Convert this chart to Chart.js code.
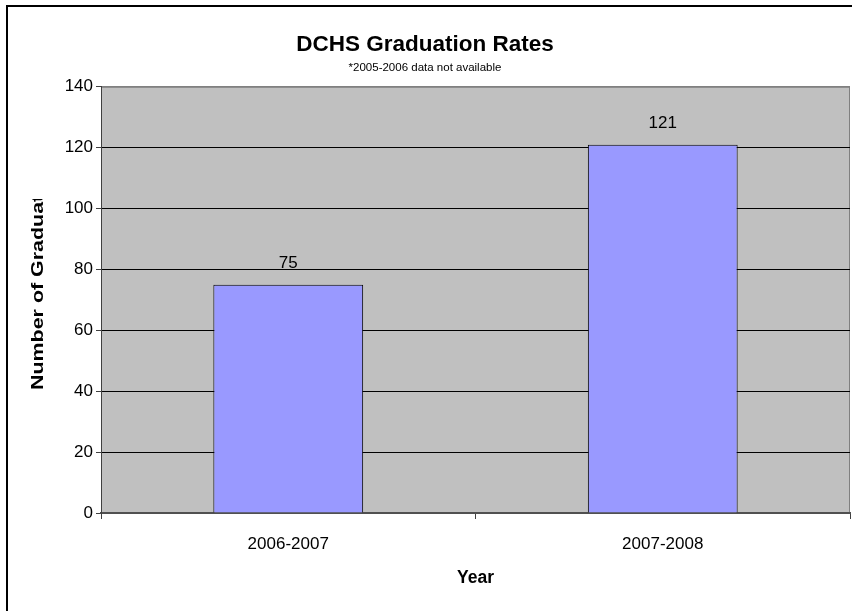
<!DOCTYPE html>
<html>
<head>
<meta charset="utf-8">
<title>DCHS Graduation Rates</title>
<script src="https://cdn.jsdelivr.net/npm/chart.js@4.4.1/dist/chart.umd.min.js"></script>
<style>
  html, body { margin: 0; padding: 0; background: #fff; }
  #wrap { width: 852px; height: 611px; position: relative; }
</style>
</head>
<body>
<div id="wrap"><canvas id="gradChart"></canvas></div>
<script>
// ---- data ----
const years = ['2006-2007', '2007-2008'];
const graduates = [75, 121];
const yTicks = [0, 20, 40, 60, 80, 100, 120, 140];

const FONT = "'Liberation Sans', Arial, sans-serif";

// frame round the whole chart + grey plot background
const framePlugin = {
    id: 'frame',
    beforeDraw(chart) {
        const { ctx, chartArea: a } = chart;
        ctx.save();
        ctx.fillStyle = '#fff';
        ctx.fillRect(0, 0, chart.width, chart.height);
        ctx.strokeStyle = '#000';
        ctx.lineWidth = 2;
        ctx.beginPath();
        ctx.moveTo(7, chart.height);
        ctx.lineTo(7, 6);
        ctx.lineTo(chart.width, 6);
        ctx.stroke();
        ctx.fillStyle = '#c0c0c0';
        ctx.fillRect(a.left, a.top, a.right - a.left, a.bottom - a.top);
        ctx.strokeStyle = '#808080';
        ctx.lineWidth = 1;
        ctx.strokeRect(a.left + 0.5, a.top + 0.5, a.right - a.left - 1, a.bottom - a.top);
        ctx.restore();
    }
};

// y axis title, cut off at the top like the original sheet
const yTitlePlugin = {
    id: 'yTitle',
    afterDraw(chart) {
        const { ctx } = chart;
        ctx.save();
        ctx.beginPath();
        ctx.rect(0, 199, 80, 400);
        ctx.clip();
        ctx.translate(38, 390);
        ctx.rotate(-Math.PI / 2);
        ctx.scale(1.26, 1);
        ctx.font = 'bold 17px ' + FONT;
        ctx.fillStyle = '#000';
        ctx.textAlign = 'left';
        ctx.textBaseline = 'middle';
        ctx.fillText('Number of Graduates', 0, 0);
        ctx.restore();
    }
};

// value above each bar
const valueLabels = {
    id: 'valueLabels',
    afterDatasetsDraw(chart) {
        const { ctx } = chart;
        ctx.save();
        ctx.font = '17px ' + FONT;
        ctx.fillStyle = '#000';
        ctx.textAlign = 'center';
        ctx.textBaseline = 'middle';
        chart.getDatasetMeta(0).data.forEach((bar, i) => {
            ctx.fillText(graduates[i], bar.x, bar.y - 21);
        });
        ctx.restore();
    }
};

new Chart(document.getElementById('gradChart'), {
    type: 'bar',
    data: {
        labels: years,
        datasets: [{
            data: graduates,
            backgroundColor: '#9999ff',
            borderColor: '#000',
            borderWidth: 1,
            borderSkipped: 'bottom',
            categoryPercentage: 1,
            barPercentage: 0.4
        }]
    },
    options: {
        responsive: true,
        maintainAspectRatio: false,
        animation: false,
        layout: { padding: { left: 0, top: 0, right: 2, bottom: 0 } },
        plugins: {
            legend: { display: false },
            tooltip: { enabled: false },
            title: {
                display: true,
                text: 'DCHS Graduation Rates',
                color: '#000',
                font: { family: FONT, size: 22.5, weight: 'bold' },
                padding: { top: 31, bottom: 0 }
            },
            subtitle: {
                display: true,
                text: '*2005-2006 data not available',
                color: '#000',
                font: { family: FONT, size: 11.5 },
                padding: { top: 3, bottom: 12 }
            }
        },
        scales: {
            x: {
                offset: true,
                grid: { display: true, drawOnChartArea: false, offset: true, color: '#404040', tickLength: 6 },
                border: { display: true, color: '#505050', width: 2 },
                ticks: { color: '#000', padding: 15, font: { family: FONT, size: 17 } },
                title: {
                    display: true,
                    text: 'Year',
                    color: '#000',
                    font: { family: FONT, size: 17.5, weight: 'bold' },
                    padding: { top: 0, bottom: 22 }
                },
                afterFit(scale) { scale.height = 98; }
            },
            y: {
                min: yTicks[0],
                max: yTicks[yTicks.length - 1],
                afterBuildTicks(scale) { scale.ticks = yTicks.map(v => ({ value: v })); },
                grid: {
                    color: ctx => (ctx.tick && ctx.tick.value === 140 ? '#808080' : '#000'),
                    tickColor: '#404040',
                    tickLength: 5
                },
                border: { display: true, color: '#404040', width: 1 },
                ticks: { color: '#000', padding: 3, font: { family: FONT, size: 17 } },
                afterFit(scale) { scale.width = 101; }
            }
        }
    },
    plugins: [framePlugin, yTitlePlugin, valueLabels]
});
</script>
</body>
</html>
